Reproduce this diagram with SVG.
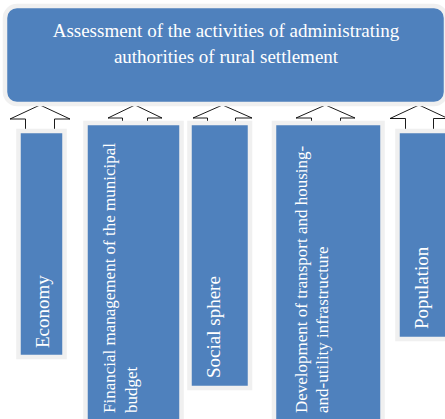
<svg xmlns="http://www.w3.org/2000/svg" width="445" height="419" viewBox="0 0 445 419">
<style>
.box{fill:#4F81BD;stroke:#F0F0F0;stroke-width:4.5}
.arrow{fill:#FFFFFF;stroke:#000000;stroke-width:0.9;stroke-linejoin:miter}
.t{font-family:"Liberation Serif","Times New Roman",serif;fill:#FFFFFF}
.big{font-size:19px}
.small{font-size:17px}
</style>
<rect width="445" height="419" fill="#FFFFFF"/>
<g id="connectors">
<polygon class="arrow" points="40,105 70,119 54.5,119 54.5,131 25.5,131 25.5,119 10,119"/>
<polygon class="arrow" points="135,105 162,118 147.5,118 147.5,123 122.5,123 122.5,118 108,118"/>
<polygon class="arrow" points="222.5,105 252,118 235.5,118 235.5,123 207.5,123 207.5,118 193,118"/>
<polygon class="arrow" points="325.5,105 355,118 340.5,118 340.5,123 311.5,123 311.5,118 296,118"/>
<polygon class="arrow" points="419,105 448,118.5 433.5,118.5 433.5,131 405.5,131 405.5,118.5 390,118.5"/>
</g>
<g id="top">
<rect class="box" x="5" y="6" width="441" height="98" rx="12" ry="12" stroke-width="4"/>
<text class="t big" x="226" y="37" text-anchor="middle">Assessment of the activities of administrating</text>
<text class="t big" x="226" y="63" text-anchor="middle">authorities of rural settlement</text>
</g>
<g id="economy">
<rect class="box" x="18.5" y="131" width="46" height="226"/>
<text class="t big" x="49" y="348" transform="rotate(-90 49 348)">Economy</text>
</g>
<g id="financial">
<rect class="box" x="85.5" y="123" width="96" height="310"/>
<text class="t small" x="115" y="413" transform="rotate(-90 115 413)">Financial management of the municipal</text>
<text class="t small" x="137" y="413" transform="rotate(-90 137 413)">budget</text>
</g>
<g id="social">
<rect class="box" x="189.5" y="123" width="60.5" height="265"/>
<text class="t big" x="220" y="378" transform="rotate(-90 220 378)">Social sphere</text>
</g>
<g id="development">
<rect class="box" x="274" y="123" width="108.5" height="310"/>
<text class="t small" x="306.5" y="413" transform="rotate(-90 306.5 413)">Development of transport and housing-</text>
<text class="t small" x="328" y="413" transform="rotate(-90 328 413)">and-utility infrastructure</text>
</g>
<g id="population">
<rect class="box" x="397.5" y="131" width="60" height="208"/>
<text class="t big" x="428" y="329" transform="rotate(-90 428 329)">Population</text>
</g>
</svg>
